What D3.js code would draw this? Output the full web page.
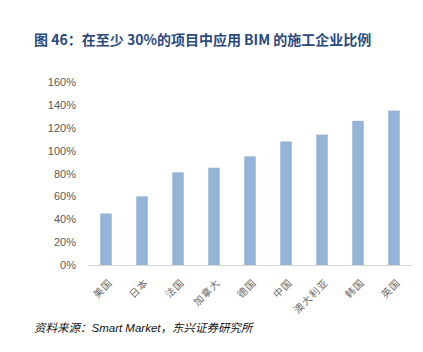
<!DOCTYPE html>
<html>
<head>
<meta charset="utf-8">
<script src="https://cdn.jsdelivr.net/npm/d3@7"></script>
<style>
  body { margin: 0; background: #fff; }
  svg { display: block; }
</style>
</head>
<body>
<div id="container"></div>
<script>
// data
const countries = ["美国", "日本", "法国", "加拿大", "德国", "中国", "澳大利亚", "韩国", "英国"];
const shares = [45, 60, 81, 85, 95, 108, 114, 126, 135];
const yTicks = [0, 20, 40, 60, 80, 100, 120, 140, 160];

const W = 423, H = 352;
const margin = {top: 82, right: 11, bottom: 87, left: 88};

const svg = d3.select("#container")
  .append("svg")
  .attr("width", W)
  .attr("height", H);

// title
svg.append("text")
  .attr("x", 34)
  .attr("y", 45)
  .style("font-family", "'Noto Sans CJK SC', 'Liberation Sans', sans-serif")
  .style("font-weight", "bold")
  .style("font-size", "14px")
  .style("fill", "#2A4A7C")
  .text("图 46：在至少 30%的项目中应用 BIM 的施工企业比例");

const xScale = d3.scaleBand()
  .domain(countries)
  .range([margin.left, W - margin.right])
  .paddingInner(0.68)
  .paddingOuter(0.34);

const yScale = d3.scaleLinear()
  .domain([0, 160])
  .range([H - margin.bottom, margin.top]);

// y axis labels, no line
const yAxis = svg.append("g")
  .attr("transform", "translate(" + (margin.left - 9) + ",0)")
  .call(d3.axisLeft(yScale).tickValues(yTicks).tickSize(0).tickFormat(d => d + "%"));
yAxis.select(".domain").remove();
yAxis.selectAll("text")
  .style("font-family", "'Liberation Sans', Arial, sans-serif")
  .style("font-size", "11px")
  .style("fill", "#595959");

// bars
svg.append("g")
  .selectAll("rect")
  .data(shares)
  .enter()
  .append("rect")
  .attr("x", (d, i) => xScale(countries[i]))
  .attr("y", d => yScale(d))
  .attr("width", xScale.bandwidth())
  .attr("height", d => yScale(0) - yScale(d))
  .style("fill", "#95B3D7");

// x axis
const xAxis = svg.append("g")
  .attr("transform", "translate(0," + yScale(0) + ")")
  .call(d3.axisBottom(xScale).tickSize(0).tickSizeOuter(0));
xAxis.select(".domain")
  .attr("stroke", "#D9D9D9")
  .attr("stroke-width", 1);
xAxis.selectAll("text")
  .attr("text-anchor", "end")
  .attr("dy", 0)
  .attr("transform", "translate(5,16) rotate(-45)")
  .style("font-family", "'Noto Sans CJK SC', sans-serif")
  .style("font-size", "10px")
  .style("letter-spacing", "1px")
  .style("fill", "#6A6A6A");

// source note
svg.append("text")
  .attr("x", 34)
  .attr("y", 332)
  .style("font-family", "'Liberation Sans', 'Noto Sans CJK SC', sans-serif")
  .style("font-style", "italic")
  .style("font-size", "11.5px")
  .style("fill", "#111")
  .text("资料来源：Smart Market，东兴证券研究所");
</script>
</body>
</html>
